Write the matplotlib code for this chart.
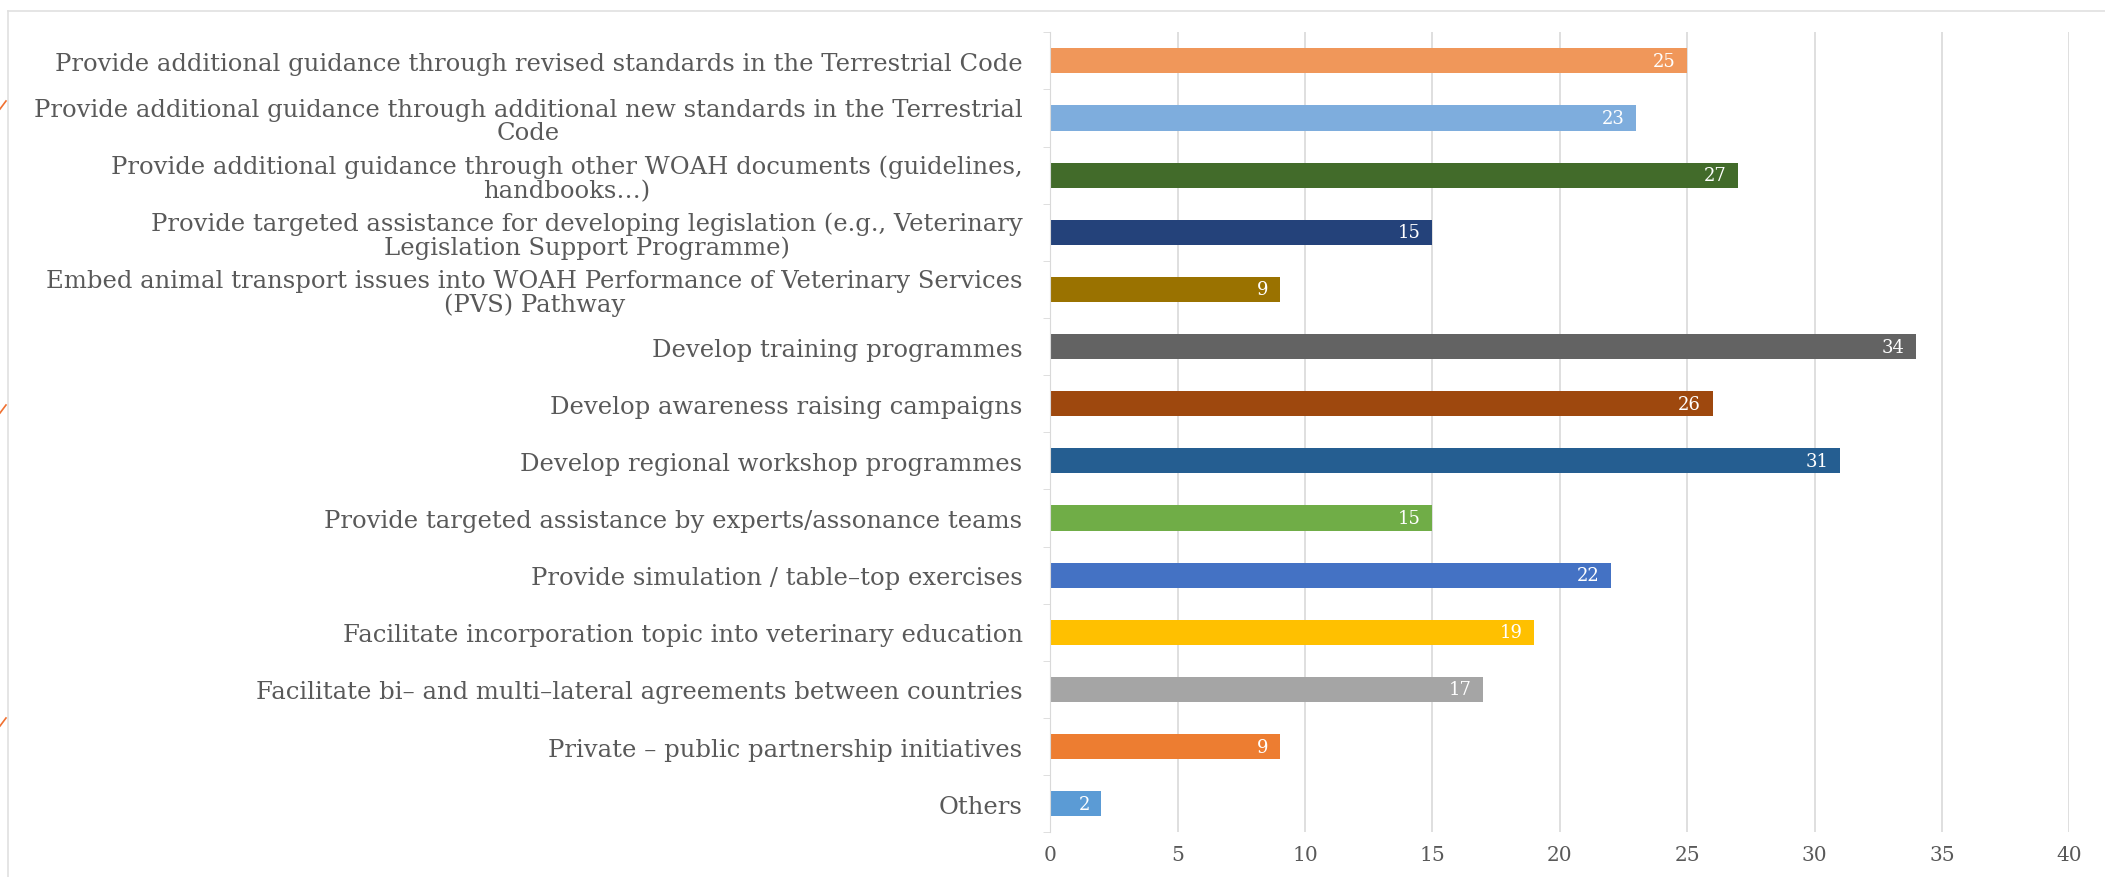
import matplotlib.pyplot as plt
from matplotlib.lines import Line2D
import numpy as np

labels = [
    "Provide additional guidance through revised standards in the Terrestrial Code",
    "Provide additional guidance through additional new standards in the Terrestrial\nCode",
    "Provide additional guidance through other WOAH documents (guidelines,\nhandbooks…)",
    "Provide targeted assistance for developing legislation (e.g., Veterinary\nLegislation Support Programme)",
    "Embed animal transport issues into WOAH Performance of Veterinary Services\n(PVS) Pathway",
    "Develop training programmes",
    "Develop awareness raising campaigns",
    "Develop regional workshop programmes",
    "Provide targeted assistance by experts/assonance teams",
    "Provide simulation / table–top exercises",
    "Facilitate incorporation topic into veterinary education",
    "Facilitate bi– and multi–lateral agreements between countries",
    "Private – public partnership initiatives",
    "Others",
]
values = [25, 23, 27, 15, 9, 34, 26, 31, 15, 22, 19, 17, 9, 2]
colors = ["#F0975A", "#7EADDD", "#426B2A", "#24427A", "#9A7200", "#636363",
          "#9E480E", "#255E91", "#70AD47", "#4472C4", "#FFC000", "#A5A5A5",
          "#ED7D31", "#5B9BD5"]
xticks = [0, 5, 10, 15, 20, 25, 30, 35, 40]

plt.rcParams['font.family'] = ['DejaVu Serif']

fig = plt.figure(figsize=(21.05, 8.78), dpi=100)
ax = fig.add_axes([0.499, 0.051, 0.484, 0.911])

y = np.arange(len(labels))
bars = ax.barh(y, values, height=0.44, color=colors, zorder=3)
for b, v in zip(bars, values):
    ax.text(b.get_width() - 0.45, b.get_y() + b.get_height() / 2, str(v),
            ha='right', va='center', color='white', fontsize=13, zorder=4)

ax.set_ylim(len(labels) - 0.5, -0.5)
ax.set_xlim(0, 40)
ax.set_xticks(xticks)
ax.set_yticks(y)
ax.set_yticklabels(labels, fontsize=17.5, color='#595959', multialignment='center',
                   linespacing=1.05)
ax.set_yticks(np.arange(-0.5, len(labels), 1), minor=True)
ax.tick_params(axis='y', which='major', length=0, pad=20)
ax.tick_params(axis='y', which='minor', length=5, color='#d9d9d9')
ax.tick_params(axis='x', length=0, labelsize=14.5, labelcolor='#595959', pad=9)
ax.grid(axis='x', color='#d9d9d9', linewidth=1.2, zorder=0)
for s in ['top', 'right', 'bottom']:
    ax.spines[s].set_visible(False)
ax.spines['left'].set_color('#d9d9d9')
ax.spines['left'].set_zorder(5)

# outer frame and stray orange marks at left edge
fig.add_artist(Line2D([8 / 2105, 1], [1 - 12 / 878, 1 - 12 / 878], color='#e0e0e0', lw=1.2))
fig.add_artist(Line2D([8 / 2105, 8 / 2105], [0, 1 - 12 / 878], color='#e0e0e0', lw=1.2))
for yy in [106, 410, 723]:
    fig.add_artist(Line2D([0, 6 / 2105], [1 - (yy + 4) / 878, 1 - (yy - 4) / 878],
                          color='#F07030', lw=1.2))

fig.savefig('out.png', dpi=100)
